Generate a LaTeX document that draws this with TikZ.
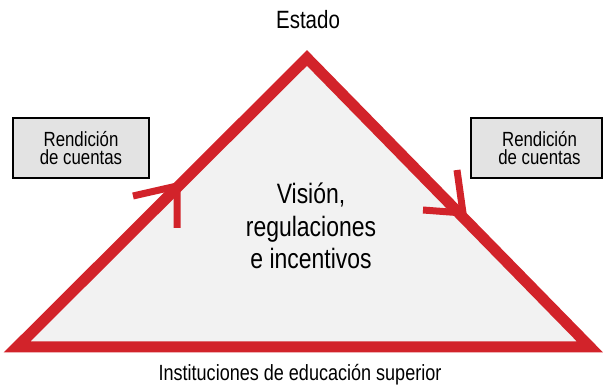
\documentclass[tikz,border=0pt]{standalone}
\usepackage{fontspec}
\setmainfont{Liberation Sans}[FakeStretch=0.82]
\definecolor{tred}{RGB}{210,35,42}
\definecolor{tfill}{RGB}{242,242,242}
\definecolor{bfill}{RGB}{227,227,227}
\begin{document}
\begin{tikzpicture}[x=1pt,y=-1pt,
  edge/.style={draw=tred,line width=11pt,line join=miter,fill=tfill},
  barb/.style={draw=tred,line width=7pt,line join=miter,line cap=butt},
  rbox/.style={draw=black,line width=2pt,fill=bfill,minimum width=136pt,minimum height=60pt,inner sep=0pt,align=center,font=\fontsize{20.5}{18.5}\selectfont},
  lbl/.style={inner sep=0pt,anchor=base}]
\useasboundingbox (0,0) rectangle (603,387);
\coordinate (apex) at (307,58);
\coordinate (bl) at (17,347);
\coordinate (br) at (590,347);
\draw[edge] (apex) -- (br) -- (bl) -- cycle;
% left arrow
\coordinate (ltip) at (177,186);
\coordinate (la) at (133,196);
\coordinate (lb) at (177,228);
\draw[barb] (la) -- (ltip) -- (lb);
% right arrow
\coordinate (rtip) at (463,213);
\coordinate (ra) at (457,170);
\coordinate (rb) at (423,210);
\draw[barb] (ra) -- (rtip) -- (rb);
\node[rbox] (lbox) at (81,148) {Rendición\\de cuentas};
\node[rbox,minimum width=131pt] (rbox) at (536.5,148) {\hspace*{6pt}Rendición\\\hspace*{6pt}de cuentas};
\node[lbl,font=\fontsize{25}{30}\selectfont] (estado) at (308,29) {Estado};
\node[inner sep=0pt,align=center,font=\fontsize{28}{32.5}\selectfont] (vision) at (311,226) {Visión,\\regulaciones\\e incentivos};
\node[lbl,font=\fontsize{22}{26}\selectfont] (ies) at (300,381) {Instituciones de educación superior};
\end{tikzpicture}
\end{document}
